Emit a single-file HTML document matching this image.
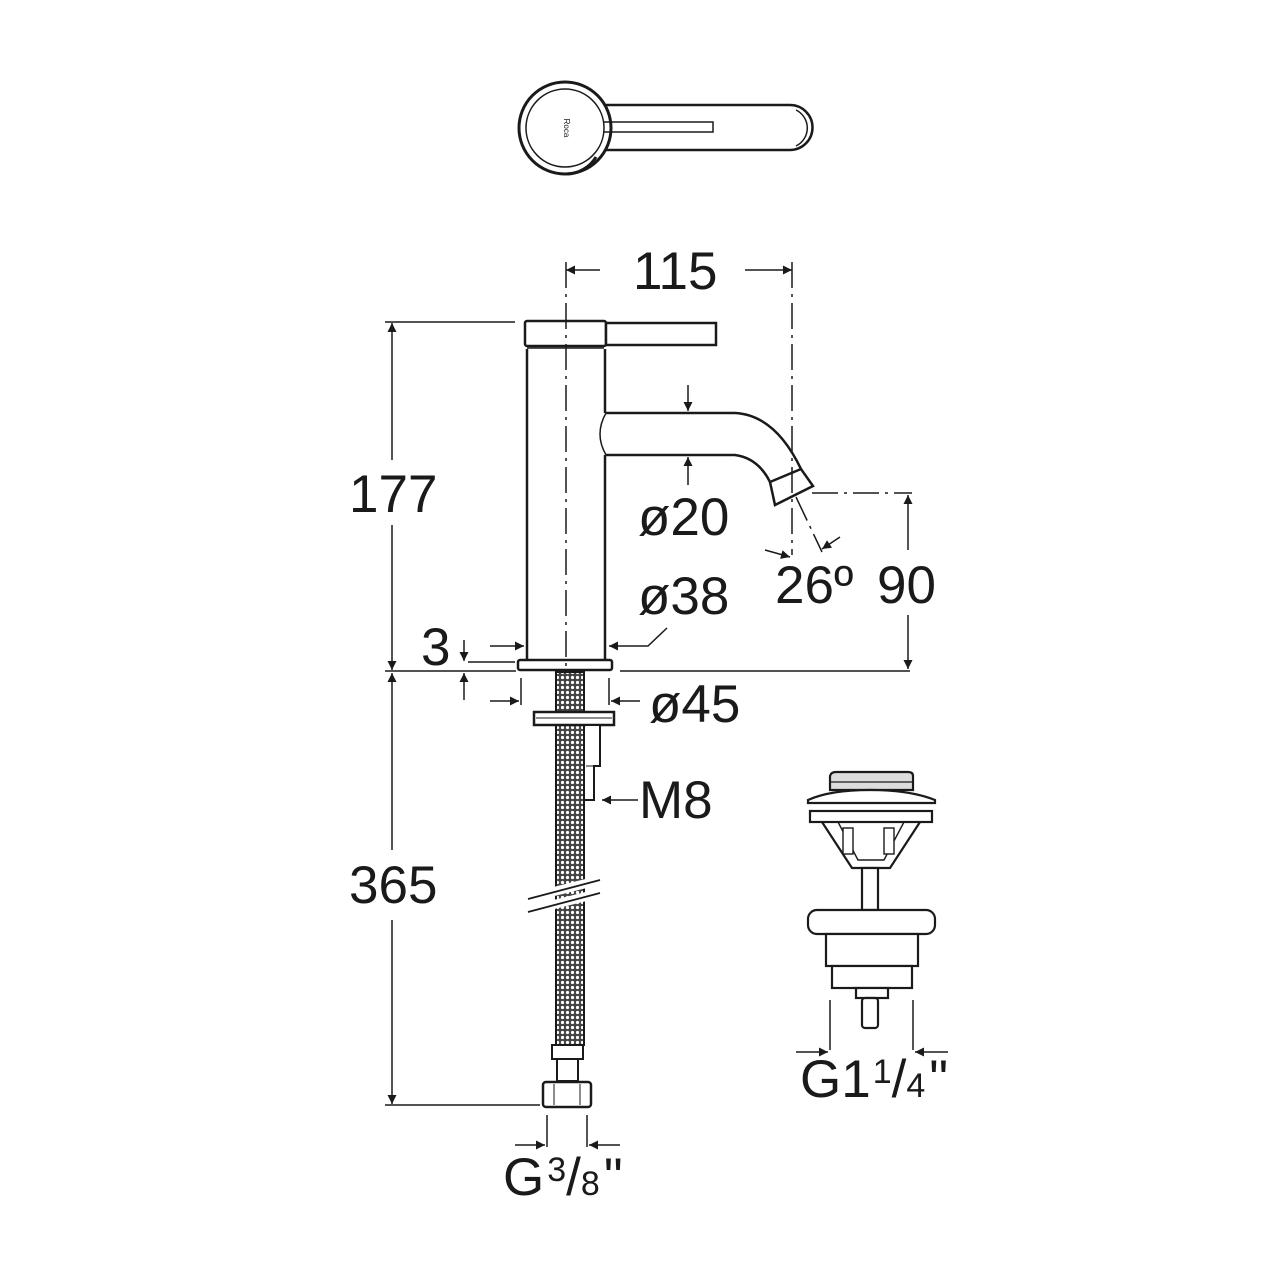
<!DOCTYPE html>
<html><head><meta charset="utf-8"><style>
html,body{margin:0;padding:0;background:#fff}
svg{display:block}
text{font-family:"Liberation Sans",sans-serif;fill:#1a1a1a}
</style></head><body>
<svg width="1280" height="1280" viewBox="0 0 1280 1280" xmlns="http://www.w3.org/2000/svg">
<defs>
<pattern id="mesh" width="5" height="5" patternUnits="userSpaceOnUse">
<rect width="5" height="5" fill="#444"/><circle cx="2.5" cy="2.5" r="1.6" fill="#fff"/>
</pattern>
<marker id="ar" viewBox="0 0 10 10" refX="10" refY="5" markerWidth="11" markerHeight="9" markerUnits="userSpaceOnUse" orient="auto">
<path d="M0,0 L10,5 L0,10 z" fill="#1a1a1a"/></marker>
</defs>
<g fill="none" stroke="#1a1a1a" stroke-width="2.5">
<path d="M603,105 L790,105 A22.5,22.5 0 0 1 790,150 L603,150" fill="#fff"/>
<circle cx="565" cy="128" r="46" fill="#fff" stroke-width="3"/>
<circle cx="565" cy="128" r="39" stroke-width="1.5"/>
<path d="M603,122 L713,122 L713,132 L603,132" stroke-width="1.5"/>
<path d="M796,110 A20,20 0 0 1 796,146" stroke-width="1.5"/>
<path d="M596,157 A35,35 0 0 1 567,174" stroke-width="3"/>
</g>
<text x="564" y="128" font-size="8" transform="rotate(90 564 128)" text-anchor="middle">Roca</text>

<g fill="none" stroke="#1a1a1a" stroke-width="2.5">
<rect x="525" y="321" width="81" height="25" rx="2" fill="#fff"/>
<rect x="606" y="323" width="110" height="22" fill="#fff"/>
<line x1="527" y1="348" x2="604" y2="348" stroke-width="1.5"/>
<path d="M527,349 L527,660 M605,349 L605,413 M605,455 L605,660"/>
<rect x="518" y="660" width="94" height="10" rx="2" fill="#fff"/>
<path d="M606,413 L735,413 Q775,415 801,469 M606,455 L735,455 Q758,458 770,482"/>
<path d="M606,413 Q594,434 606,455" stroke-width="1.5"/>
<path d="M770,482 L801,469 L813,486 L775,505 Z" fill="#fff"/>
<rect x="556" y="672" width="28" height="373" fill="url(#mesh)" stroke-width="2"/>
<rect x="534" y="712" width="80" height="13" fill="#fff"/>
<line x1="536" y1="718" x2="612" y2="718" stroke-width="1"/>
<path d="M586,725 L600,725 L600,766 L594,766 L594,800 L585,800" fill="#fff" stroke-width="2"/>
<line x1="586" y1="766" x2="594" y2="766" stroke-width="1"/>
<path d="M540,895 L600,880 M540,908 L600,893" stroke="#fff" stroke-width="9"/>
<path d="M528,899 L600,880 M528,912 L600,893" stroke-width="1.8"/>
<rect x="552" y="1045" width="31" height="14" fill="#fff" stroke-width="2"/>
<rect x="557" y="1059" width="21" height="22" fill="#fff" stroke-width="2"/>
<rect x="543" y="1082" width="48" height="25" rx="3" fill="#fff"/>
<line x1="554" y1="1084" x2="554" y2="1105" stroke-width="1"/>
<line x1="580" y1="1084" x2="580" y2="1105" stroke-width="1"/>
</g>

<g stroke="#1a1a1a" stroke-width="1.5" fill="none" stroke-dasharray="26,6,3,6">
<line x1="566" y1="262" x2="566" y2="672"/>
<line x1="792" y1="262" x2="792" y2="555"/>
<line x1="812" y1="493" x2="912" y2="493"/>
<line x1="796" y1="497" x2="822" y2="552"/>
</g>

<g stroke="#1a1a1a" stroke-width="1.5" fill="none">
<line x1="600" y1="270" x2="566" y2="270" marker-end="url(#ar)"/>
<line x1="745" y1="270" x2="792" y2="270" marker-end="url(#ar)"/>
<line x1="385" y1="322" x2="515" y2="322"/>
<line x1="392" y1="460" x2="392" y2="323" marker-end="url(#ar)"/>
<line x1="392" y1="525" x2="392" y2="670" marker-end="url(#ar)"/>
<line x1="385" y1="671" x2="516" y2="671"/>
<line x1="620" y1="671" x2="910" y2="671"/>
<line x1="392" y1="850" x2="392" y2="673" marker-end="url(#ar)"/>
<line x1="392" y1="920" x2="392" y2="1104" marker-end="url(#ar)"/>
<line x1="385" y1="1105" x2="540" y2="1105"/>
<line x1="688" y1="385" x2="688" y2="411" marker-end="url(#ar)"/>
<line x1="688" y1="485" x2="688" y2="457" marker-end="url(#ar)"/>
<line x1="908" y1="550" x2="908" y2="495" marker-end="url(#ar)"/>
<line x1="908" y1="615" x2="908" y2="669" marker-end="url(#ar)"/>
<line x1="765" y1="550" x2="790" y2="557" marker-end="url(#ar)"/>
<line x1="840" y1="537" x2="822" y2="549" marker-end="url(#ar)"/>
<line x1="490" y1="646" x2="524" y2="646" marker-end="url(#ar)"/>
<path d="M667,628 L648,646 L609,646" marker-end="url(#ar)"/>
<line x1="464" y1="640" x2="464" y2="661" marker-end="url(#ar)"/>
<line x1="468" y1="662" x2="515" y2="662"/>
<line x1="464" y1="700" x2="464" y2="673" marker-end="url(#ar)"/>
<line x1="521" y1="678" x2="521" y2="705"/>
<line x1="609" y1="678" x2="609" y2="705"/>
<line x1="490" y1="701" x2="519" y2="701" marker-end="url(#ar)"/>
<line x1="640" y1="701" x2="611" y2="701" marker-end="url(#ar)"/>
<line x1="638" y1="800" x2="602" y2="800" marker-end="url(#ar)"/>
<line x1="547" y1="1115" x2="547" y2="1147"/>
<line x1="587" y1="1115" x2="587" y2="1147"/>
<line x1="515" y1="1145" x2="545" y2="1145" marker-end="url(#ar)"/>
<line x1="620" y1="1145" x2="589" y2="1145" marker-end="url(#ar)"/>
<line x1="830" y1="1000" x2="830" y2="1050"/>
<line x1="913" y1="1000" x2="913" y2="1050"/>
<line x1="796" y1="1052" x2="828" y2="1052" marker-end="url(#ar)"/>
<line x1="948" y1="1052" x2="915" y2="1052" marker-end="url(#ar)"/>
</g>

<g fill="#fff" stroke="#1a1a1a" stroke-width="2.2">
<path d="M830,790 L830,776 Q831,772 836,772 L908,772 Q913,772 913,776 L913,790 Z" fill="#ddd"/>
<line x1="830" y1="782" x2="913" y2="782" stroke-width="1.2"/>
<path d="M808,800 Q830,790 870,790 Q910,790 935,800 L935,803 L808,803 Z"/>
<rect x="810" y="811" width="122" height="11"/>
<path d="M822,822 L852,868 L890,868 L920,822" fill="none"/>
<path d="M838,822 L858,860 L884,860 L904,822" fill="none" stroke-width="1.4"/>
<rect x="843" y="828" width="10" height="26" stroke-width="1.4"/>
<rect x="884" y="828" width="10" height="26" stroke-width="1.4"/>
<rect x="862" y="868" width="16" height="42"/>
<rect x="808" y="910" width="127" height="24" rx="9"/>
<rect x="826" y="934" width="92" height="32"/>
<rect x="832" y="966" width="80" height="22"/>
<rect x="856" y="988" width="32" height="10"/>
<rect x="862" y="998" width="16" height="30" rx="3"/>
</g>

<g font-size="53">
<text x="633" y="289">115</text>
<rect x="340" y="465" width="100" height="55" fill="#fff"/>
<text x="349" y="512">177</text>
<rect x="340" y="855" width="100" height="60" fill="#fff"/>
<text x="349" y="903">365</text>
<text x="638" y="535">ø20</text>
<text x="638" y="614">ø38</text>
<text x="775" y="603">26º</text>
<rect x="875" y="555" width="66" height="58" fill="#fff"/>
<text x="877" y="603">90</text>
<text x="421" y="665">3</text>
<text x="649" y="722">ø45</text>
<text x="639" y="818">M8</text>
<text x="503" y="1195">G<tspan font-size="34" dy="-14" dx="3">3</tspan><tspan dy="14">/</tspan><tspan font-size="34">8</tspan><tspan dx="4">"</tspan></text>
<text x="800" y="1097">G1<tspan font-size="34" dy="-14" dx="2">1</tspan><tspan dy="14">/</tspan><tspan font-size="34">4</tspan><tspan dx="4">"</tspan></text>
</g>
</svg>
</body></html>
